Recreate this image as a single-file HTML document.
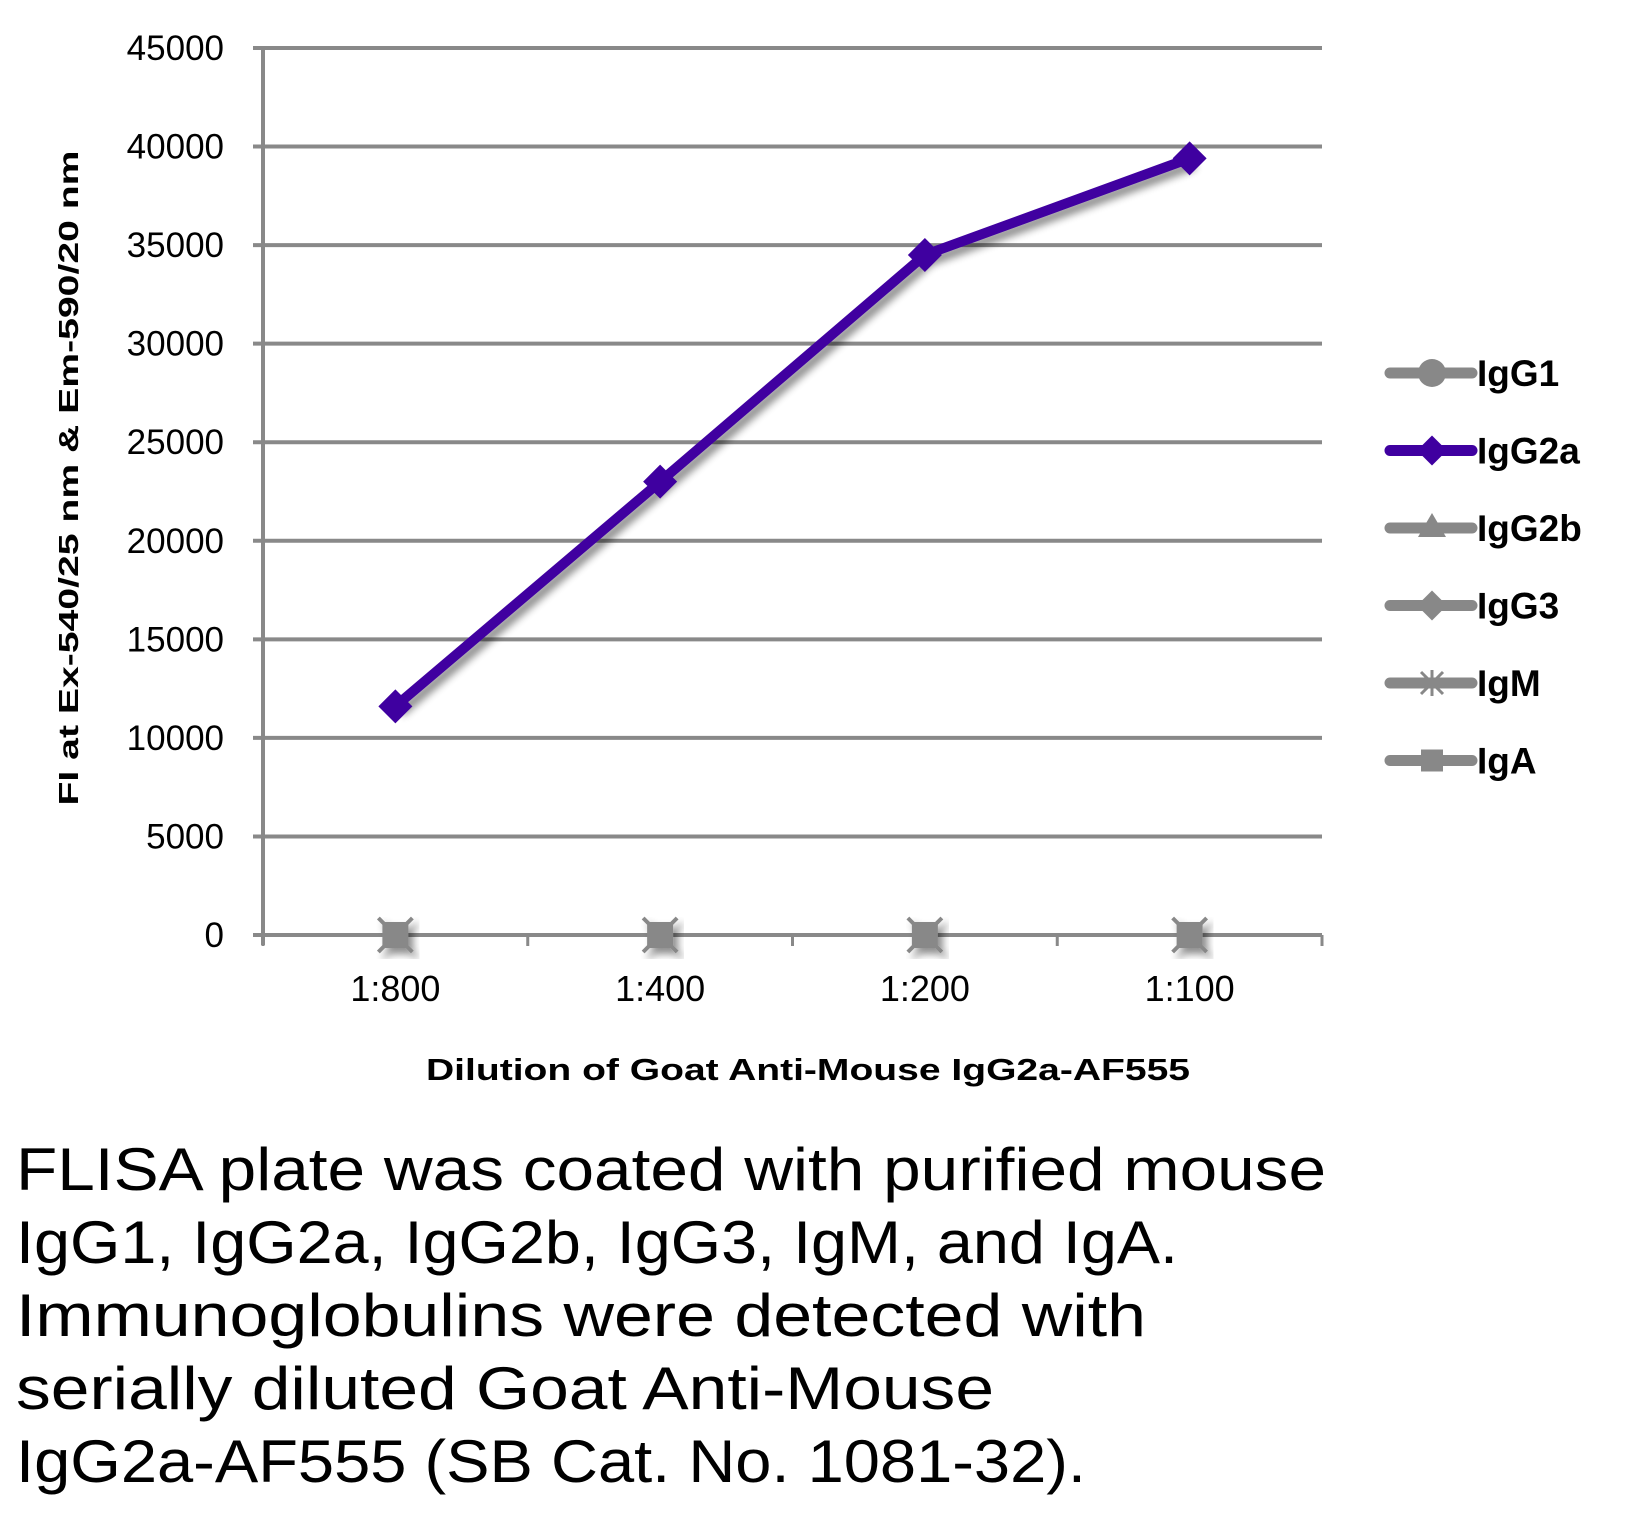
<!DOCTYPE html>
<html><head><meta charset="utf-8"><style>body{margin:0;background:#fff}svg{display:block}</style></head>
<body>
<svg id="chart" width="1629" height="1513" xmlns="http://www.w3.org/2000/svg" font-family="'Liberation Sans', sans-serif">
<defs><filter id="sh" x="-20%" y="-20%" width="140%" height="140%"><feGaussianBlur in="SourceAlpha" stdDeviation="4"/><feOffset dx="5" dy="6"/><feComponentTransfer><feFuncA type="linear" slope="0.45"/></feComponentTransfer><feMerge><feMergeNode/><feMergeNode in="SourceGraphic"/></feMerge></filter></defs>
<g id="grid"></g>
<g id="axes"></g>
<g id="series"></g>
<text transform="translate(78,478) rotate(-90)" text-anchor="middle" font-size="28" font-weight="bold" textLength="655" lengthAdjust="spacingAndGlyphs">FI at Ex-540/25  nm &amp; Em-590/20  nm</text>
<text x="808" y="1080" text-anchor="middle" font-size="31" font-weight="bold" textLength="764" lengthAdjust="spacingAndGlyphs">Dilution of Goat Anti-Mouse IgG2a-AF555</text>
<g id="legend"></g>
<g font-size="60">
<text x="16" y="1190" textLength="1310" lengthAdjust="spacingAndGlyphs">FLISA plate was coated with purified mouse</text>
<text x="16" y="1263" textLength="1162" lengthAdjust="spacingAndGlyphs">IgG1, IgG2a, IgG2b, IgG3, IgM, and IgA.</text>
<text x="16" y="1336" textLength="1130" lengthAdjust="spacingAndGlyphs">Immunoglobulins were detected with</text>
<text x="16" y="1409" textLength="978" lengthAdjust="spacingAndGlyphs">serially diluted Goat Anti-Mouse</text>
<text x="16" y="1482" textLength="1070" lengthAdjust="spacingAndGlyphs">IgG2a-AF555 (SB Cat. No. 1081-32).</text>
</g>
</svg>
<script>
const categories = ["1:800","1:400","1:200","1:100"];
const igg2aValues = [11600, 23000, 34500, 39400];
const zeroValues = [0, 0, 0, 0];
const yTicks = [0,5000,10000,15000,20000,25000,30000,35000,40000,45000];
const legendNames = ["IgG1","IgG2a","IgG2b","IgG3","IgM","IgA"];
const NS="http://www.w3.org/2000/svg";
const X0=263, X1=1322, Y0=935, Y1=48, YMAX=45000;
const y=v=>Y0-(v/YMAX)*(Y0-Y1);
const bw=(X1-X0)/categories.length;
const x=i=>X0+bw*(i+0.5);
function mk(tag,attrs,parent){const e=document.createElementNS(NS,tag);for(const k in attrs)e.setAttribute(k,attrs[k]);parent.appendChild(e);return e;}
const grid=document.getElementById('grid'),axes=document.getElementById('axes'),ser=document.getElementById('series'),leg=document.getElementById('legend');
yTicks.forEach(t=>{
  const l=mk('line',{x1:X0-10,x2:X1,y1:y(t),y2:y(t),stroke:'#898989','stroke-width':4},grid);
  
  
  const tx=mk('text',{x:224,y:y(t)+12,'text-anchor':'end','font-size':35},axes);
  tx.textContent=t;
  
  
});
const ya=mk('line',{x1:X0,x2:X0,y1:Y1,y2:Y0+10,stroke:'#898989','stroke-width':4},axes);


for(let i=0;i<=categories.length;i++){
  const tk=mk('line',{x1:X0+bw*i,x2:X0+bw*i,y1:Y0,y2:Y0+11,stroke:'#898989','stroke-width':3},axes);
  
  
}
categories.forEach((c,i)=>{
  const tx=mk('text',{x:x(i),y:1001,'text-anchor':'middle','font-size':36},axes);
  tx.textContent=c;
  
  
});
const zp=mk('polyline',{points:zeroValues.map((v,i)=>x(i)+','+y(v)).join(' '),fill:'none',stroke:'#888','stroke-width':9,filter:'url(#sh)'},ser);


zeroValues.forEach((v,i)=>{
  const g=mk('g',{filter:'url(#sh)'},ser);
  
  
  mk('line',{x1:x(i)-17,y1:y(v)-17,x2:x(i)+17,y2:y(v)+17,stroke:'#888','stroke-width':4},g);
  mk('line',{x1:x(i)-17,y1:y(v)+17,x2:x(i)+17,y2:y(v)-17,stroke:'#888','stroke-width':4},g);
  mk('rect',{x:x(i)-13,y:y(v)-13,width:26,height:26,fill:'#888'},g);
});
const pp=mk('polyline',{points:igg2aValues.map((v,i)=>x(i)+','+y(v)).join(' '),fill:'none',stroke:'#3f00a0','stroke-width':10,'stroke-linejoin':'round',filter:'url(#sh)'},ser);


igg2aValues.forEach((v,i)=>{
  const m=mk('path',{d:`M${x(i)},${y(v)-17} L${x(i)+17},${y(v)} L${x(i)},${y(v)+17} L${x(i)-17},${y(v)} Z`,fill:'#3f00a0'},ser);
  
  
});
legendNames.forEach((n,i)=>{
  const cy=373+i*77.5, col=i==1?'#3f00a0':'#888';
  const g=mk('g',{},leg);
  
  
  mk('line',{x1:1390,x2:1472,y1:cy,y2:cy,stroke:col,'stroke-width':11,'stroke-linecap':'round'},g);
  const mx=1432;
  if(i==0) mk('circle',{cx:mx,cy:cy,r:14,fill:col},g);
  else if(i==1||i==3) mk('path',{d:`M${mx},${cy-15} L${mx+15},${cy} L${mx},${cy+15} L${mx-15},${cy} Z`,fill:col},g);
  else if(i==2) mk('path',{d:`M${mx},${cy-15} L${mx+14},${cy+9} L${mx-14},${cy+9} Z`,fill:col},g);
  else if(i==4){mk('line',{x1:mx-11,y1:cy-11,x2:mx+11,y2:cy+11,stroke:col,'stroke-width':3},g);mk('line',{x1:mx-11,y1:cy+11,x2:mx+11,y2:cy-11,stroke:col,'stroke-width':3},g);mk('line',{x1:mx,y1:cy-13,x2:mx,y2:cy+13,stroke:col,'stroke-width':3},g);}
  else mk('rect',{x:mx-11,y:cy-11,width:22,height:22,fill:col},g);
  const t=mk('text',{x:1477,y:cy+13,'font-size':37,'font-weight':'bold'},g);
  t.textContent=n;
});
</script>
</body></html>
